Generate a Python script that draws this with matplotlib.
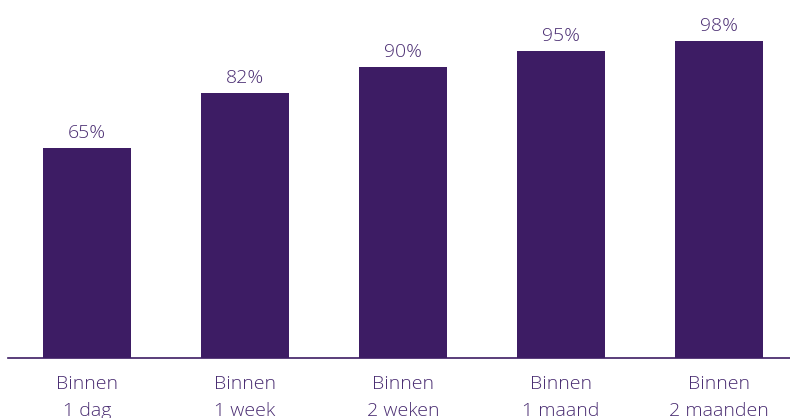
import matplotlib
matplotlib.use("Agg")
import matplotlib.pyplot as plt

categories = ["Binnen\n1 dag", "Binnen\n1 week", "Binnen\n2 weken", "Binnen\n1 maand", "Binnen\n2 maanden"]
values = [65, 82, 90, 95, 98]
value_labels = ["65%", "82%", "90%", "95%", "98%"]

bar_color = "#3d1c64"
text_color = "#4a2d72"

plt.rcParams['font.family'] = ['Open Sans', 'DejaVu Sans']

fig = plt.figure(figsize=(7.9, 4.18), dpi=100)
ax = fig.add_axes([8/790, 60/418, 782/790, (358-35)/418])
x = list(range(len(categories)))
bars = ax.bar(x, values, width=0.555, color=bar_color, zorder=2)
ax.set_xlim(-0.5, -0.5 + 782/158)
ax.set_ylim(0, 100)
for xi, v, lab in zip(x, values, value_labels):
    ax.annotate(lab, (xi, v), xytext=(0, 4.5), textcoords="offset points",
                ha="center", va="bottom", fontsize=14, color=text_color, fontweight="light")
ax.set_yticks([])
ax.set_xticks(x)
ax.set_xticklabels(categories, fontsize=14, color=text_color, fontweight="light", linespacing=1.65)
ax.tick_params(axis="x", length=0, pad=12)
for s in ["top", "right", "left"]:
    ax.spines[s].set_visible(False)
ax.spines["bottom"].set_color("#3d1c64")
ax.spines["bottom"].set_linewidth(1.2)
fig.savefig("out.png", dpi=100, facecolor="white")
